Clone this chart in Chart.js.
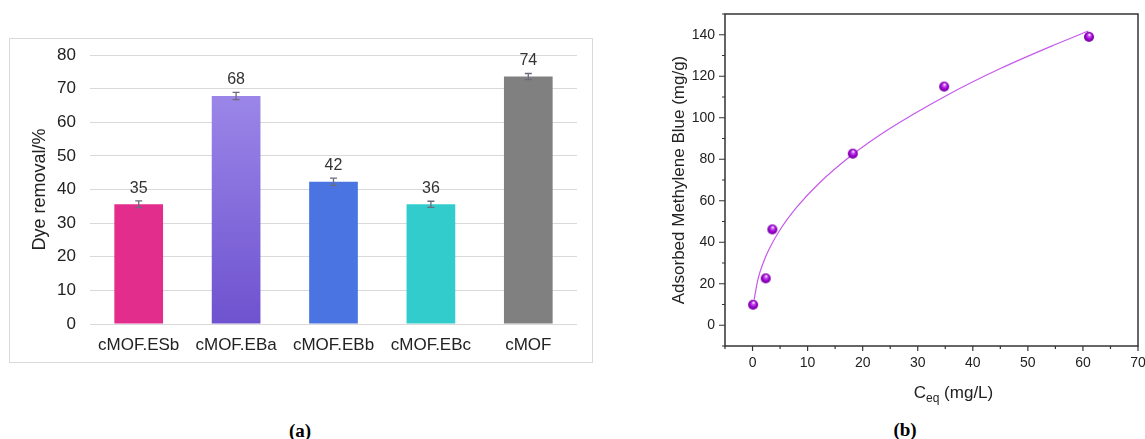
<!DOCTYPE html>
<html>
<head>
<meta charset="utf-8">
<script src="https://cdn.jsdelivr.net/npm/chart.js@4.4.1/dist/chart.umd.min.js"></script>
<style>
  body { margin: 0; background: #fff; width: 1145px; height: 439px; position: relative; overflow: hidden; }
  #frameA { position: absolute; left: 9px; top: 38px; width: 582px; height: 323px; border: 1px solid #d9d9d9; }
  #chartA { position: absolute; left: 0; top: 0; }
  #chartB { position: absolute; left: 600px; top: 0; }
  .panel { position: absolute; font: bold 19px "Liberation Serif", "DejaVu Serif", serif; color: #000; transform: translateX(-50%); }
</style>
</head>
<body>
<div id="frameA"><canvas id="chartA" width="582" height="323"></canvas></div>
<canvas id="chartB" width="545" height="415"></canvas>
<div class="panel" style="left:300px; top:420px;">(a)</div>
<div class="panel" style="left:905px; top:419px;">(b)</div>

<script>
// panel (a) - dye removal for each sample
const samples = ["cMOF.ESb", "cMOF.EBa", "cMOF.EBb", "cMOF.EBc", "cMOF"];
const removal = [35.6, 67.8, 42.3, 35.6, 73.6];
const removalErr = [1.0, 1.1, 1.1, 0.9, 0.9];
const removalLabels = ["35", "68", "42", "36", "74"];
const barColors = ["#e22d8d", "#8a72e0", "#4a74e2", "#33cccc", "#808080"];

// panel (b) - methylene blue isotherm
const ceq = [0.1, 2.4, 3.6, 18.2, 34.8, 61.1];
const qe = [9.9, 22.6, 46.2, 82.7, 115.0, 139.0];
// fitted curve
const fitCeq = [0.3, 1, 2, 3, 5, 8, 12, 18, 25, 35, 45, 55, 61];
const fitQe = [12.5, 22.3, 30.5, 36.6, 46.0, 56.8, 68.2, 81.9, 94.9, 110.4, 123.7, 135.3, 141.8];
const xTicksB = [0, 10, 20, 30, 40, 50, 60, 70];
const yTicksB = [0, 20, 40, 60, 80, 100, 120, 140];

Chart.defaults.font.family = "'Liberation Sans', Arial, sans-serif";
Chart.defaults.color = "#222";

// error bars + value labels on top of the bars
const barExtras = {
  id: "barExtras",
  afterDatasetsDraw(chart) {
    const ctx = chart.ctx;
    const ys = chart.scales.y;
    const bars = chart.getDatasetMeta(0).data;
    ctx.save();
    bars.forEach((bar, i) => {
      const top = ys.getPixelForValue(removal[i] + removalErr[i]);
      const bot = ys.getPixelForValue(removal[i] - removalErr[i]);
      ctx.strokeStyle = "#6b6b7b";
      ctx.lineWidth = 1.3;
      ctx.beginPath();
      ctx.moveTo(bar.x, top); ctx.lineTo(bar.x, bot);
      ctx.moveTo(bar.x - 3.5, top); ctx.lineTo(bar.x + 3.5, top);
      ctx.moveTo(bar.x - 3.5, bot); ctx.lineTo(bar.x + 3.5, bot);
      ctx.stroke();
      ctx.fillStyle = "#333";
      ctx.font = "16px 'Liberation Sans', Arial, sans-serif";
      ctx.textAlign = "center";
      ctx.textBaseline = "middle";
      ctx.fillText(removalLabels[i], bar.x, bar.y - 16);
    });
    ctx.restore();
  }
};

// keep the plot box where it is in the picture (no label overhang padding)
function noPad(s) {
  s.paddingTop = 0; s.paddingBottom = 0; s.paddingLeft = 0; s.paddingRight = 0;
}

new Chart(document.getElementById("chartA"), {
  type: "bar",
  data: {
    labels: samples,
    datasets: [{
      data: removal,
      barPercentage: 0.5,
      categoryPercentage: 1,
      backgroundColor: c => {
        if (c.dataIndex !== 1) return barColors[c.dataIndex];
        if (!c.chart.chartArea) return barColors[1];
        const ys = c.chart.scales.y;
        const g = c.chart.ctx.createLinearGradient(0, ys.getPixelForValue(removal[1]), 0, ys.getPixelForValue(0));
        g.addColorStop(0, "#9b86e8");
        g.addColorStop(1, "#6e52cf");
        return g;
      }
    }]
  },
  options: {
    responsive: false,
    animation: false,
    layout: { padding: { top: 16, right: 15, left: 0, bottom: 0 } },
    plugins: { legend: { display: false }, tooltip: { enabled: false } },
    scales: {
      x: {
        grid: { display: false, drawTicks: false },
        border: { display: false },
        ticks: { padding: 11, font: { size: 17 } },
        afterFit: s => { s.height = 38; noPad(s); }
      },
      y: {
        min: 0,
        max: 80,
        ticks: { stepSize: 10, padding: 14, font: { size: 17 } },
        grid: { color: "#d9d9d9", drawTicks: false },
        border: { display: false },
        title: { display: true, text: "Dye removal/%", font: { size: 18 }, padding: { top: 19, bottom: 0 } },
        afterFit: s => { s.width = 80; noPad(s); }
      }
    }
  },
  plugins: [barExtras]
});

// shaded ball marker like the original plot
function sphere(r) {
  const c = document.createElement("canvas");
  c.width = c.height = r * 2 + 2;
  const g = c.getContext("2d");
  const cx = r + 1, cy = r + 1;
  const grad = g.createRadialGradient(cx + 0.5, cy - r * 0.45, 0.5, cx, cy, r);
  grad.addColorStop(0, "#fbeaff");
  grad.addColorStop(0.25, "#c64cf2");
  grad.addColorStop(0.65, "#9900cc");
  grad.addColorStop(1, "#6d0096");
  g.fillStyle = grad;
  g.beginPath();
  g.arc(cx, cy, r, 0, Math.PI * 2);
  g.fill();
  return c;
}

// box, tick marks and the subscripted x title
const frameB = {
  id: "frameB",
  afterDraw(chart) {
    const { ctx, chartArea: a, scales } = chart;
    ctx.save();
    ctx.strokeStyle = "#333";
    ctx.lineWidth = 1.5;
    ctx.strokeRect(a.left, a.top, a.right - a.left, a.bottom - a.top);
    ctx.lineWidth = 1.2;
    ctx.beginPath();
    for (let v = -5; v <= 70; v += 5) {
      const px = scales.x.getPixelForValue(v);
      const len = v % 10 === 0 ? 5 : 3;
      ctx.moveTo(px, a.bottom); ctx.lineTo(px, a.bottom + len);
    }
    for (let v = -10; v <= 150; v += 10) {
      const py = scales.y.getPixelForValue(v);
      const len = v % 20 === 0 ? 6 : 3;
      ctx.moveTo(a.left, py); ctx.lineTo(a.left - len, py);
    }
    ctx.stroke();

    const big = "17px 'Liberation Sans', Arial, sans-serif";
    const small = "12px 'Liberation Sans', Arial, sans-serif";
    ctx.fillStyle = "#222";
    ctx.textBaseline = "alphabetic";
    ctx.textAlign = "left";
    ctx.font = big;
    const wC = ctx.measureText("C").width;
    const wR = ctx.measureText(" (mg/L)").width;
    ctx.font = small;
    const wS = ctx.measureText("eq").width;
    let x = (a.left + a.right) / 2 + 22 - (wC + wS + wR) / 2;
    const base = a.bottom + 52;
    ctx.font = big;
    ctx.fillText("C", x, base);
    x += wC;
    ctx.font = small;
    ctx.fillText("eq", x, base + 4);
    x += wS;
    ctx.font = big;
    ctx.fillText(" (mg/L)", x, base);
    ctx.restore();
  }
};

new Chart(document.getElementById("chartB"), {
  type: "scatter",
  data: {
    datasets: [
      {
        data: ceq.map((x, i) => ({ x, y: qe[i] })),
        pointStyle: sphere(5),
        pointRadius: 5
      },
      {
        data: fitCeq.map((x, i) => ({ x, y: fitQe[i] })),
        showLine: true,
        pointRadius: 0,
        borderColor: "#c659ec",
        borderWidth: 1.2,
        cubicInterpolationMode: "monotone",
        fill: false
      }
    ]
  },
  options: {
    responsive: false,
    animation: false,
    layout: { padding: { top: 14, right: 7, left: 0, bottom: 0 } },
    plugins: { legend: { display: false }, tooltip: { enabled: false } },
    scales: {
      x: {
        type: "linear",
        min: -5,
        max: 70,
        afterBuildTicks: s => { s.ticks = xTicksB.map(v => ({ value: v })); },
        afterFit: s => { s.height = 69; noPad(s); },
        grid: { display: false, drawTicks: false },
        border: { display: false },
        ticks: { padding: 9, font: { size: 14 }, callback: v => v }
      },
      y: {
        min: -10,
        max: 150,
        afterBuildTicks: s => { s.ticks = yTicksB.map(v => ({ value: v })); },
        afterFit: s => { s.width = 125; noPad(s); },
        grid: { display: false, drawTicks: false },
        border: { display: false },
        ticks: { padding: 10, font: { size: 14 }, callback: v => v },
        title: { display: true, text: "Adsorbed Methylene Blue (mg/g)", font: { size: 17 }, padding: { top: 69, bottom: 0 } }
      }
    }
  },
  plugins: [frameB]
});
</script>
</body>
</html>
